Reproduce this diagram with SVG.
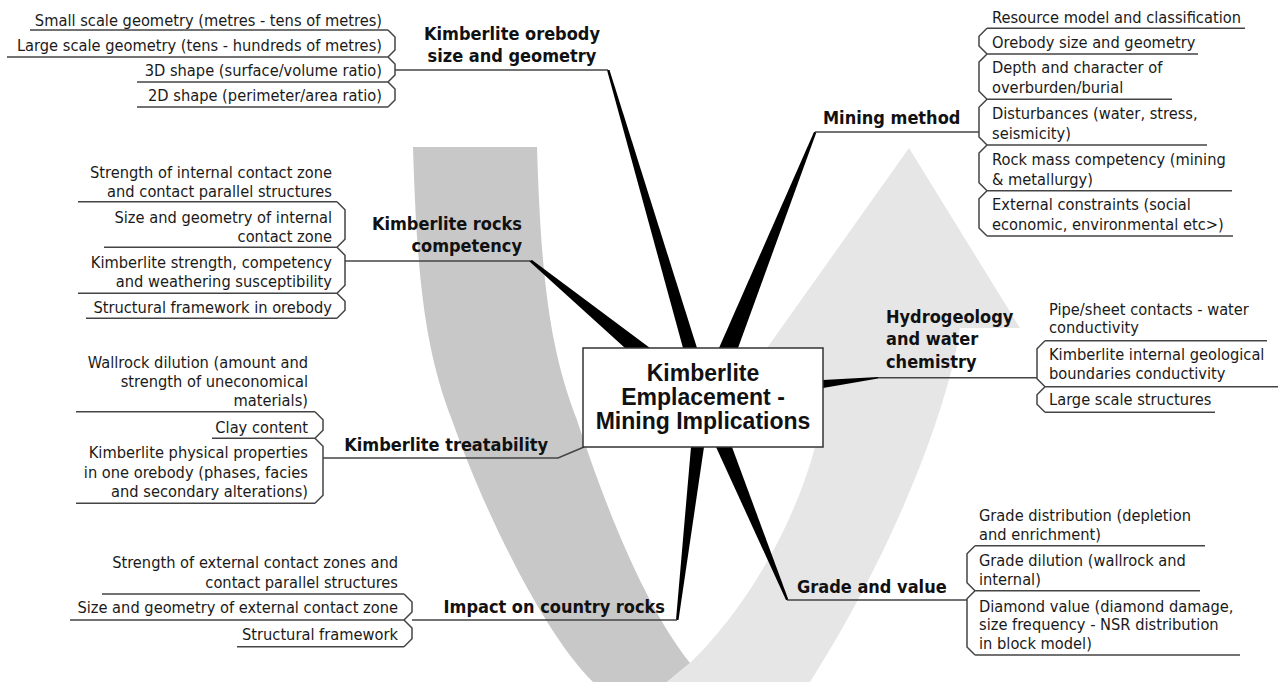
<svg xmlns="http://www.w3.org/2000/svg" width="1279" height="682" viewBox="0 0 1279 682">
<style>
.t{font-family:"DejaVu Sans Condensed","DejaVu Sans",sans-serif;font-stretch:condensed;font-size:16.3px;fill:#1a1a1a}
.h{font-family:"DejaVu Sans Condensed","DejaVu Sans",sans-serif;font-stretch:condensed;font-weight:bold;font-size:18px;fill:#111}
.c{font-family:"Liberation Sans",Arial,sans-serif;font-weight:bold;font-size:23px;fill:#111;text-anchor:middle}
.e{text-anchor:end}
.ln{stroke:#444;stroke-width:1.5;fill:none}
.sp{fill:#000}
</style>
<rect width="1279" height="682" fill="#fff"/>
<g id="arrow">
<path fill="#c8c8c8" d="M413,147 H537 C541,280 550,350 577,420 C600,490 640,600 690,663 L667,682 H593 C540,630 480,500 452,420 C425,350 417,280 413,147 Z"/>
<path fill="#e6e6e6" d="M667,682 L690,663 C735,620 790,540 815,447 L815,348 L767,348 L909,148 L1020,328 L960,328 C950,400 900,540 810,682 Z"/>
</g>
<g id="connectors">
<path class="sp" d="M607,70 L609.5,70 L697,348 L683,348 Z"/>
<path class="sp" d="M529,261 L532,260 L650,348 L625,348 Z"/>
<path class="sp" d="M814,132 L816.5,132 L738,348 L719,348 Z"/>
<path class="sp" d="M823,380 L878,377 L878,378.6 L823,388 Z"/>
<path class="sp" d="M676,620 L678.5,620 L704,447 L691,447 Z"/>
<path class="sp" d="M786,600 L788.5,600 L732,447 L716,447 Z"/>
<path class="ln" d="M323,458 H558 L584,447" stroke-width="2"/>
<path class="ln" d="M395,70 H608"/>
<path class="ln" d="M345,261 H530"/>
<path class="ln" d="M412,620 H677"/>
<path class="ln" d="M815,132 H979"/>
<path class="ln" d="M878,377.7 H1037"/>
<path class="ln" d="M787,600 H967"/>
</g>
<g id="center">
<rect x="583" y="348" width="240" height="99" fill="#fff" stroke="#333" stroke-width="1.5"/>
<text class="c" x="703" y="380.7">Kimberlite</text>
<text class="c" x="703" y="405">Emplacement -</text>
<text class="c" x="703" y="429.3">Mining Implications</text>
</g>
<g id="orebody">
<text class="h" text-anchor="middle" x="512" y="40">Kimberlite orebody</text>
<text class="h" text-anchor="middle" x="512" y="62">size and geometry</text>
<path class="ln" d="M30,30 H388 M7,57 H388 M137,82 H388 M137,107 H388 M388,30 L395,37 V50 L388,57 L395,64 V75 L388,82 L395,89 V100 L388,107"/>
<text class="t e" x="382" y="25.7">Small scale geometry (metres - tens of metres)</text>
<text class="t e" x="382" y="51">Large scale geometry (tens - hundreds of metres)</text>
<text class="t e" x="382" y="76">3D shape (surface/volume ratio)</text>
<text class="t e" x="382" y="101">2D shape (perimeter/area ratio)</text>
</g>
<g id="competency">
<text class="h e" x="522" y="230">Kimberlite rocks</text>
<text class="h e" x="522" y="252">competency</text>
<path class="ln" d="M78,201.7 H337 M104,247.3 H337 M78,293.3 H337 M86,318.3 H337 M337,201.7 L345,209.7 V239.3 L337,247.3 L345,255.3 V285.3 L337,293.3 L345,301.3 V310.3 L337,318.3"/>
<text class="t e" x="332" y="178.3">Strength of internal contact zone</text>
<text class="t e" x="332" y="196.7">and contact parallel structures</text>
<text class="t e" x="332" y="223">Size and geometry of internal</text>
<text class="t e" x="332" y="241.7">contact zone</text>
<text class="t e" x="332" y="268">Kimberlite strength, competency</text>
<text class="t e" x="332" y="286.7">and weathering susceptibility</text>
<text class="t e" x="332" y="313.3">Structural framework in orebody</text>
</g>
<g id="treatability">
<text class="h e" x="548" y="450.7">Kimberlite treatability</text>
<path class="ln" d="M76,411.7 H315 M212,438.3 H315 M76,503.3 H315 M315,411.7 L323,419.7 V430.3 L315,438.3 L323,446.3 V495.3 L315,503.3"/>
<text class="t e" x="308" y="368.3">Wallrock dilution (amount and</text>
<text class="t e" x="308" y="387.3">strength of uneconomical</text>
<text class="t e" x="308" y="406">materials)</text>
<text class="t e" x="308" y="433.3">Clay content</text>
<text class="t e" x="308" y="458.3">Kimberlite physical properties</text>
<text class="t e" x="308" y="478.3">in one orebody (phases, facies</text>
<text class="t e" x="308" y="496.7">and secondary alterations)</text>
</g>
<g id="impact">
<text class="h e" x="665" y="613">Impact on country rocks</text>
<path class="ln" d="M102,594 H404 M70,620 H404 M237,646.7 H404 M404,594 L412,602 V612 L404,620 L412,628 V638.7 L404,646.7"/>
<text class="t e" x="398" y="568.3">Strength of external contact zones and</text>
<text class="t e" x="398" y="588.3">contact parallel structures</text>
<text class="t e" x="398" y="613.3">Size and geometry of external contact zone</text>
<text class="t e" x="398" y="640">Structural framework</text>
</g>
<g id="mining">
<text class="h" x="823" y="124">Mining method</text>
<path class="ln" d="M987,28.3 H1245 M987,54 H1198 M987,99.3 H1172 M987,145 H1207 M987,190.7 H1232 M987,236 H1233 M987,28.3 L979,36.3 V46 L987,54 L979,62 V91.3 L987,99.3 L979,107.3 V137 L987,145 L979,153 V182.7 L987,190.7 L979,198.7 V228 L987,236"/>
<text class="t" x="992" y="22.7">Resource model and classification</text>
<text class="t" x="992" y="48.3">Orebody size and geometry</text>
<text class="t" x="992" y="73.3">Depth and character of</text>
<text class="t" x="992" y="93.3">overburden/burial</text>
<text class="t" x="992" y="119.3">Disturbances (water, stress,</text>
<text class="t" x="992" y="139.3">seismicity)</text>
<text class="t" x="992" y="165">Rock mass competency (mining</text>
<text class="t" x="992" y="185">&amp; metallurgy)</text>
<text class="t" x="992" y="210">External constraints (social</text>
<text class="t" x="992" y="230">economic, environmental etc&gt;)</text>
</g>
<g id="hydro">
<text class="h" x="886" y="323.3">Hydrogeology</text>
<text class="h" x="886" y="345">and water</text>
<text class="h" x="886" y="368.3">chemistry</text>
<path class="ln" d="M1045,340.7 H1267 M1045,386.7 H1278 M1045,412.3 H1215 M1045,340.7 L1037,348.7 V378.7 L1045,386.7 L1037,394.7 V404.3 L1045,412.3"/>
<text class="t" x="1049" y="315">Pipe/sheet contacts - water</text>
<text class="t" x="1049" y="333.3">conductivity</text>
<text class="t" x="1049" y="360">Kimberlite internal geological</text>
<text class="t" x="1049" y="379.3">boundaries conductivity</text>
<text class="t" x="1049" y="405">Large scale structures</text>
</g>
<g id="grade">
<text class="h" x="797" y="592.7">Grade and value</text>
<path class="ln" d="M975,545.7 H1205 M975,590.7 H1200 M975,655 H1240 M975,545.7 L967,553.7 V582.7 L975,590.7 L967,598.7 V647 L975,655"/>
<text class="t" x="979" y="521">Grade distribution (depletion</text>
<text class="t" x="979" y="540">and enrichment)</text>
<text class="t" x="979" y="566">Grade dilution (wallrock and</text>
<text class="t" x="979" y="585">internal)</text>
<text class="t" x="979" y="611.7">Diamond value (diamond damage,</text>
<text class="t" x="979" y="630">size frequency - NSR distribution</text>
<text class="t" x="979" y="649.3">in block model)</text>
</g>
</svg>
